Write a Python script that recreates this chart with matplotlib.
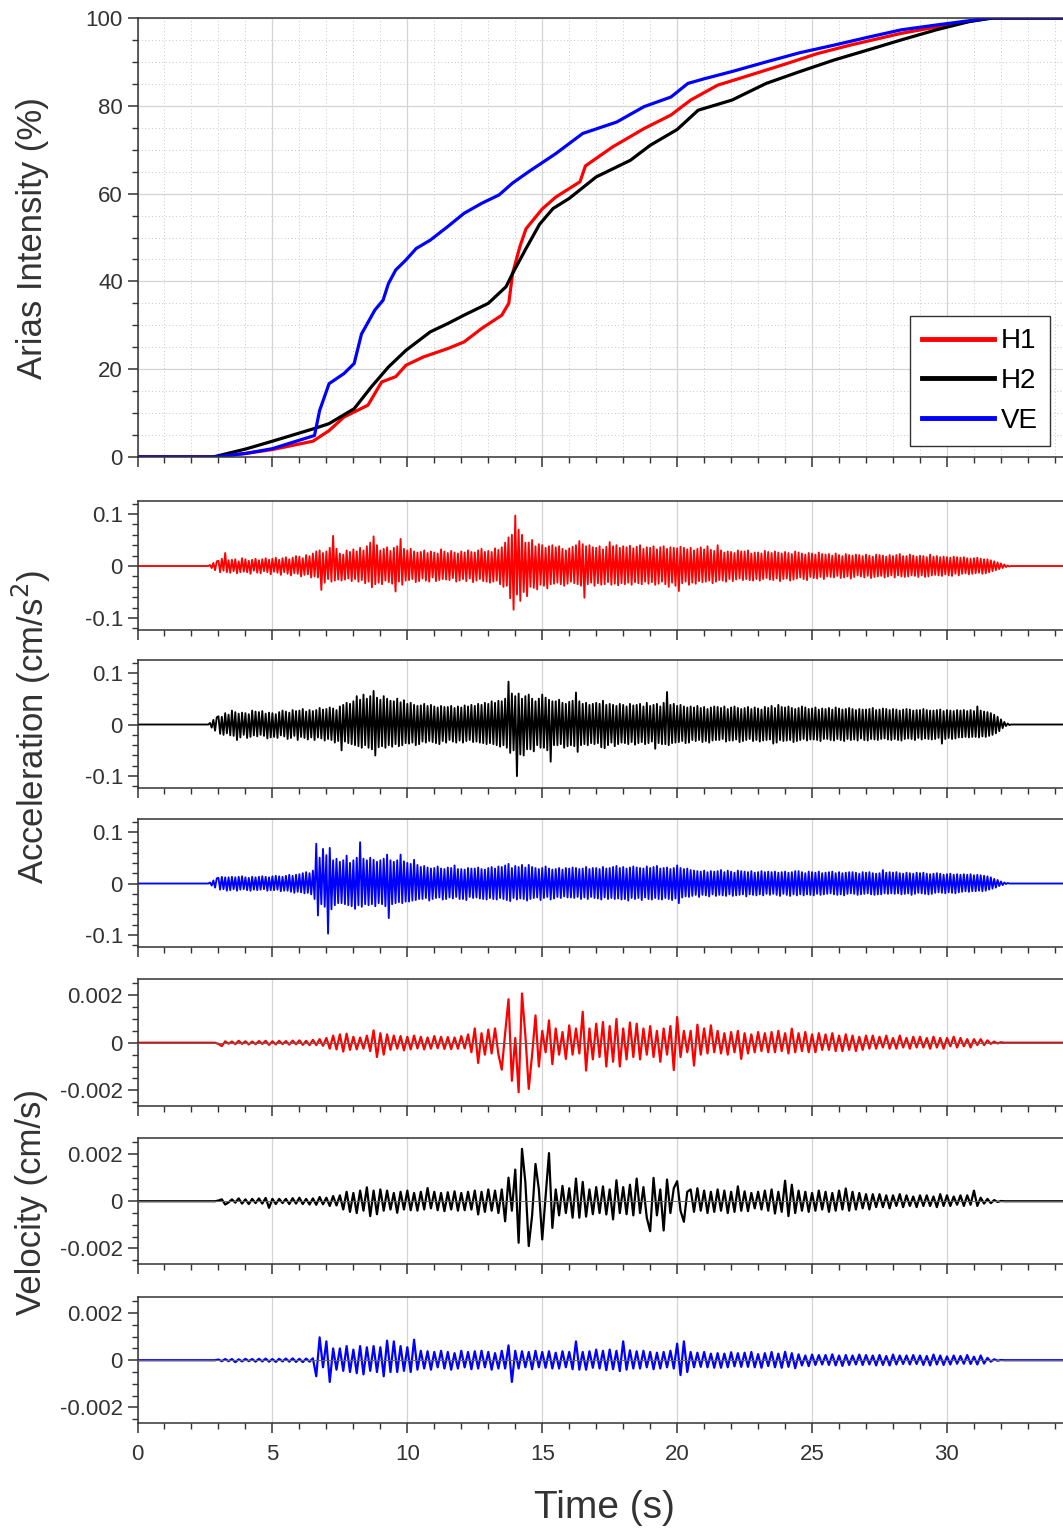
#!/usr/bin/env python
"""
plot.py - Arias intensity, acceleration and velocity histories (H1, H2, VE).
Writes out.png
"""
import numpy as np
import matplotlib
matplotlib.use("Agg")
import matplotlib.pyplot as plt
from matplotlib.ticker import MultipleLocator, FuncFormatter

INK, GRID = "#333333", "#d4d4d4"
COL = {"H1": "#ff0000", "H2": "#000000", "VE": "#0000ff"}

plt.rcParams.update({
    "font.family": ["Liberation Sans", "DejaVu Sans"],
    "axes.unicode_minus": False, "font.size": 16,
    "axes.edgecolor": INK, "axes.linewidth": 1.1,
    "xtick.color": INK, "ytick.color": INK,
    "xtick.labelcolor": INK, "ytick.labelcolor": INK,
})

REC_END = 34.3  # s, end of record / x-range

# ---- Arias intensity (%) -------------------------------------------------
AI_T_H1 = [0, 2.8, 4.0, 5.0, 6.5, 7.1, 7.65, 8.54, 9.05, 9.57, 9.95, 10.6, 11.5, 12.1,
           12.76, 13.5, 13.76, 13.9, 14.17, 14.4, 15.0, 15.5, 16.4, 16.6, 17.6, 18.77,
           19.77, 20.5, 21.5, 22.5, 23.9, 25.2, 26.4, 28.3, 30.2, 31.6, 34.3]
AI_H1 = [0, 0, 0.8, 1.7, 3.6, 6.0, 9.1, 11.8, 17.1, 18.3, 20.9, 22.8, 24.7, 26.2,
         29.3, 32.3, 35.0, 41.8, 47.9, 52.0, 56.5, 59.2, 62.7, 66.3, 70.6, 74.8,
         77.9, 81.3, 84.7, 86.6, 89.3, 91.9, 93.8, 96.5, 98.6, 100, 100]
AI_T_H2 = [0, 2.8, 4.0, 5.0, 6.56, 7.1, 8.03, 8.67, 9.3, 9.95, 10.85, 11.5, 12.1, 13.0,
           13.66, 13.9, 14.4, 14.9, 15.4, 16.0, 17.0, 18.27, 19.0, 20.0, 20.78, 22.03,
           23.3, 24.55, 25.8, 27.06, 28.3, 29.6, 30.84, 31.7, 34.3]
AI_H2 = [0, 0, 1.8, 3.6, 6.5, 7.6, 11.0, 16.0, 20.5, 24.3, 28.5, 30.4, 32.3, 35.0,
         38.8, 41.8, 47.5, 53.0, 56.6, 58.9, 63.8, 67.6, 71.0, 74.6, 79.0, 81.3,
         85.1, 87.8, 90.4, 92.7, 95.0, 97.3, 99.2, 100, 100]
AI_T_VE = [0, 2.8, 4.0, 5.0, 6.56, 6.75, 7.1, 7.65, 8.03, 8.3, 8.8, 9.1, 9.3, 9.57, 9.95,
           10.33, 10.85, 11.5, 12.1, 12.76, 13.4, 13.9, 14.5, 15.5, 16.5, 17.76, 18.77,
           19.77, 20.4, 21.03, 22.03, 23.3, 24.55, 25.8, 27.06, 28.3, 29.6, 30.84, 31.6, 34.3]
AI_VE = [0, 0, 0.8, 1.9, 4.9, 10.6, 16.7, 19.0, 21.3, 28.0, 33.5, 35.7, 39.5, 42.6, 44.9,
         47.5, 49.4, 52.5, 55.5, 57.8, 59.7, 62.4, 65.0, 69.1, 73.7, 76.3, 79.8,
         82.0, 85.1, 86.2, 87.8, 90.0, 92.1, 93.8, 95.6, 97.3, 98.4, 99.4, 100, 100]

# ---- waveforms: samples from T0; one row = 0.5 s (acc) or 1 s (vel) ------
T0 = 2.5
DT_ACC, DT_VEL = 1 / 16, 1 / 8

# acceleration, 1e-3 cm/s^2
ACC_H1 = [
    0, 0, 0, 2, -4, 6, -8, 9,  10, -12, 14, -9, 25, -12, 11, -13,
    12, -10, 13, -14, 9, -12, 15, -11,  13, -12, 10, -15, 12, -9, 14, -13,
    11, -14, 13, -10, 15, -12, 12, -16,  14, -11, 16, -13, 12, -17, 15, -12,
    17, -15, 13, -18, 16, -14, 19, -15,  18, -20, 15, -17, 21, -16, 19, -22,
    24, -20, 28, -22, 30, -46, 25, -32,  28, -25, 35, -30, 58, -28, 33, -26,
    24, -28, 22, -26, 30, -24, 27, -29,  32, -25, 28, -30, 35, -27, 30, -33,
    38, -30, 45, -41, 57, -35, 40, -32,  30, -35, 33, -28, 36, -31, 29, -34,
    35, -49, 38, -30, 52, -36, 33, -28,  30, -27, 33, -25, 28, -31, 26, -29,
    27, -24, 30, -28, 25, -30, 28, -22,  26, -29, 24, -27, 32, -25, 28, -26,
    25, -27, 29, -23, 26, -30, 24, -28,  28, -25, 26, -29, 30, -24, 27, -31,
    26, -28, 30, -25, 33, -29, 27, -30,  29, -32, 27, -30, 34, -28, 31, -35,
    36, -40, 45, -38, 55, -62, 60, -84,  97, -55, 70, -67, 60, -50, 45, -58,
    45, -40, 50, -42, 38, -45, 42, -36,  40, -38, 35, -43, 38, -35, 40, -34,
    36, -32, 38, -35, 33, -38, 30, -34,  34, -30, 37, -33, 40, -35, 48, -38,
    42, -61, 38, -35, 40, -32, 36, -38,  35, -33, 38, -36, 32, -35, 37, -31,
    46, -36, 38, -34, 40, -37, 35, -33,  38, -35, 36, -32, 39, -36, 34, -31,
    37, -33, 40, -35, 33, -30, 36, -34,  35, -31, 38, -36, 32, -34, 36, -30,
    38, -35, 33, -40, 36, -32, 35, -38,  34, -48, 37, -33, 35, -30, 32, -36,
    35, -32, 30, -34, 33, -29, 36, -31,  32, -30, 38, -28, 31, -33, 29, -30,
    40, -27, 30, -28, 26, -30, 28, -25,  27, -29, 25, -26, 30, -24, 28, -27,
    28, -25, 30, -27, 24, -28, 26, -25,  26, -28, 24, -25, 29, -23, 27, -26,
    25, -27, 28, -24, 26, -29, 24, -25,  27, -24, 25, -28, 23, -26, 28, -24,
    26, -22, 24, -25, 22, -27, 25, -21,  24, -23, 22, -24, 26, -21, 23, -25,
    22, -20, 23, -21, 20, -22, 24, -19,  21, -23, 19, -22, 23, -20, 21, -24,
    20, -21, 22, -18, 21, -20, 19, -22,  22, -19, 20, -23, 18, -21, 22, -20,
    21, -19, 20, -22, 18, -20, 21, -18,  19, -22, 21, -18, 23, -20, 19, -21,
    19, -20, 22, -18, 20, -19, 18, -21,  20, -18, 19, -21, 17, -20, 22, -18,
    18, -17, 19, -18, 17, -19, 18, -16,  17, -18, 16, -19, 18, -15, 17, -18,
    16, -15, 17, -14, 15, -16, 14, -15,  15, -14, 16, -13, 14, -15, 13, -14,
    13, -12, 11, -10, 9, -8, 7, -6,  5, -4, 3, -2, 1, -1, 0, 0,
]
ACC_H2 = [
    0, 0, 0, 3, -6, 9, -12, 14,  16, -18, 15, -20, 22, -17, 19, -21,
    27, -22, 24, -30, 21, -25, 23, -20,  22, -26, 20, -24, 27, -21, 25, -23,
    24, -20, 26, -22, 21, -27, 23, -25,  22, -24, 20, -26, 24, -21, 27, -23,
    25, -28, 23, -26, 28, -22, 26, -30,  27, -24, 30, -26, 25, -29, 28, -25,
    26, -30, 28, -25, 32, -27, 29, -31,  30, -28, 33, -30, 31, -35, 28, -32,
    35, -50, 38, -33, 42, -36, 40, -38,  45, -40, 55, -42, 48, -45, 58, -40,
    50, -45, 55, -48, 65, -60, 52, -44,  48, -42, 55, -45, 50, -40, 46, -43,
    45, -38, 50, -42, 43, -40, 47, -36,  40, -37, 42, -35, 38, -40, 36, -38,
    37, -33, 40, -35, 36, -32, 38, -34,  35, -36, 33, -38, 36, -32, 34, -35,
    34, -30, 36, -33, 32, -35, 35, -31,  33, -35, 37, -32, 35, -30, 38, -34,
    36, -33, 40, -35, 38, -36, 42, -38,  40, -36, 45, -38, 42, -40, 46, -43,
    45, -40, 50, -45, 83, -55, 60, -50,  55, -100, 60, -58, 50, -60, 55, -48,
    58, -48, 50, -52, 45, -40, 50, -45,  58, -45, 52, -50, 48, -72, 45, -40,
    45, -40, 48, -38, 42, -45, 40, -42,  44, -40, 46, -42, 62, -53, 45, -40,
    40, -38, 42, -40, 38, -36, 40, -38,  42, -36, 40, -44, 46, -46, 38, -40,
    40, -35, 38, -42, 36, -38, 40, -35,  38, -36, 35, -38, 40, -34, 37, -39,
    38, -36, 40, -34, 35, -38, 42, -36,  36, -33, 38, -47, 40, -36, 35, -38,
    42, -38, 63, -40, 38, -36, 40, -35,  36, -34, 38, -32, 35, -36, 33, -35,
    35, -30, 33, -32, 36, -30, 32, -34,  34, -32, 30, -35, 33, -31, 35, -30,
    34, -30, 32, -28, 35, -33, 30, -31,  33, -31, 35, -29, 32, -34, 30, -32,
    32, -30, 34, -28, 30, -32, 33, -30,  31, -33, 29, -31, 34, -30, 32, -29,
    36, -37, 32, -35, 38, -30, 34, -32,  33, -31, 35, -30, 32, -34, 30, -32,
    32, -30, 35, -28, 33, -31, 30, -29,  31, -29, 33, -30, 29, -32, 31, -28,
    30, -28, 32, -30, 29, -31, 33, -28,  31, -30, 29, -32, 30, -28, 32, -30,
    30, -29, 28, -31, 30, -27, 29, -30,  29, -31, 30, -28, 32, -29, 28, -30,
    29, -28, 31, -27, 30, -29, 28, -30,  30, -28, 29, -30, 27, -31, 29, -28,
    30, -27, 29, -28, 27, -30, 28, -26,  28, -29, 30, -27, 28, -28, 27, -29,
    27, -28, 28, -26, 29, -37, 26, -28,  28, -26, 27, -28, 26, -27, 28, -25,
    27, -25, 28, -24, 26, -25, 28, -24,  26, -24, 35, -25, 27, -23, 25, -24,
    24, -22, 22, -20, 19, -17, 15, -13,  10, -7, 5, -3, 2, -1, 0, 0,
]
ACC_VE = [
    0, 0, 0, 2, -4, 6, -8, 10,  11, -12, 13, -11, 12, -14, 12, -13,
    13, -11, 12, -14, 13, -12, 14, -11,  12, -13, 11, -14, 13, -12, 12, -13,
    13, -12, 14, -11, 13, -14, 12, -13,  14, -13, 15, -12, 14, -15, 13, -14,
    15, -14, 17, -16, 15, -18, 17, -16,  18, -17, 20, -19, 22, -18, 20, -21,
    25, -30, 77, -62, 50, -40, 67, -45,  55, -97, 69, -50, 45, -42, 48, -38,
    42, -38, 45, -40, 54, -42, 40, -44,  45, -49, 50, -42, 80, -45, 48, -40,
    45, -42, 50, -40, 46, -44, 42, -38,  45, -40, 48, -44, 56, -67, 45, -40,
    42, -38, 45, -36, 56, -38, 43, -35,  40, -35, 38, -33, 46, -32, 36, -30,
    32, -30, 34, -28, 31, -33, 29, -30,  30, -28, 33, -27, 29, -31, 28, -30,
    31, -27, 30, -29, 35, -26, 28, -30,  28, -30, 27, -32, 30, -26, 29, -28,
    29, -27, 31, -29, 28, -30, 27, -31,  30, -28, 32, -30, 29, -31, 33, -28,
    32, -30, 35, -32, 38, -34, 30, -28,  34, -31, 32, -29, 36, -30, 31, -33,
    36, -30, 32, -28, 30, -27, 28, -32,  30, -28, 33, -26, 29, -31, 27, -29,
    28, -26, 30, -28, 27, -25, 30, -27,  29, -27, 31, -28, 30, -26, 28, -30,
    29, -27, 32, -30, 28, -26, 30, -28,  30, -29, 28, -31, 32, -27, 29, -30,
    30, -28, 32, -30, 34, -29, 30, -31,  32, -30, 29, -33, 31, -28, 33, -30,
    31, -28, 30, -32, 29, -27, 33, -30,  30, -31, 32, -28, 34, -30, 29, -31,
    30, -28, 31, -30, 28, -32, 30, -29,  35, -38, 30, -27, 28, -25, 29, -26,
    26, -24, 25, -22, 24, -26, 23, -22,  25, -23, 22, -25, 24, -21, 23, -24,
    24, -22, 26, -23, 22, -24, 25, -21,  23, -24, 21, -23, 25, -22, 24, -21,
    23, -25, 22, -21, 24, -22, 21, -23,  22, -21, 24, -23, 22, -20, 23, -22,
    22, -20, 23, -22, 21, -24, 22, -20,  23, -22, 21, -24, 22, -21, 24, -23,
    24, -21, 22, -23, 20, -21, 23, -22,  22, -23, 21, -20, 23, -22, 20, -21,
    21, -20, 22, -19, 23, -21, 20, -22,  22, -21, 20, -23, 21, -20, 22, -19,
    22, -20, 21, -22, 19, -21, 22, -20,  21, -19, 22, -21, 20, -22, 19, -21,
    20, -21, 26, -19, 21, -20, 22, -19,  21, -20, 22, -19, 20, -21, 19, -20,
    21, -19, 20, -22, 19, -20, 21, -18,  20, -19, 21, -20, 19, -21, 18, -20,
    19, -18, 20, -17, 19, -18, 17, -19,  18, -17, 19, -18, 17, -19, 18, -17,
    17, -16, 18, -15, 17, -16, 18, -15,  16, -15, 17, -14, 16, -15, 15, -14,
    14, -12, 12, -10, 9, -8, 7, -5,  4, -3, 2, -1, 1, 0, 0, 0,
]

# velocity, 1e-4 cm/s
VEL_H1 = [
    0, 0, 0, 0, -0.5, -1.4, 0.6, -0.4,  0.5, -0.6, 0.8, -0.5, 0.6, -0.7, 0.5, -0.6,
    0.7, -0.5, 0.8, -0.9, 0.6, -0.7, 0.8, -0.6,  0.7, -0.8, 0.9, -0.7, 1.0, -0.9, 0.8, -1.0,
    1.2, -1.0, 1.5, -1.3, 2.0, -2.5, 3.0, -2.8,  3.5, -3.7, 3.8, -3.0, 2.5, -2.8, 2.2, -2.5,
    3.0, -3.5, 5.2, -6.0, 4.0, -5.0, 3.5, -3.0,  3.0, -2.5, 2.8, -3.2, 2.5, -2.8, 3.0, -2.4,
    2.5, -2.8, 2.2, -2.5, 2.8, -2.3, 2.5, -2.6,  2.4, -2.7, 2.2, -2.5, 2.8, -2.4, 3.5, -4.0,
    6.0, -8.5, 4.0, -5.0, 5.5, -4.5, 6.0, -4.8,  -11.3, 4.0, 18.3, -16.0, 2.0, -20.8, 20.7, 3.0,
    -19.4, -5.0, 11.5, -10.0, 5.0, -4.0, 9.4, -9.0,  6.0, -5.0, 4.5, -6.8, 7.3, -5.0, 6.0, -4.5,
    13.0, -11.7, 6.0, -7.0, 8.0, -6.0, 8.7, -10.0,  7.0, -8.0, 10.0, -10.0, 6.0, -7.0, 8.5, -6.0,
    8.0, -7.0, 6.0, -5.0, 7.0, -6.0, 5.0, -8.0,  6.0, -5.0, 7.0, -11.5, 10.8, -6.0, 5.0, -4.0,
    5.0, -9.6, 7.6, -5.0, 6.0, -4.5, 7.3, -4.0,  5.0, -4.5, 4.0, -5.0, 4.5, -4.0, 5.0, -6.8,
    4.0, -4.5, 3.5, -4.0, 4.5, -3.5, 4.0, -4.0,  4.5, -4.0, 5.0, -3.5, 4.0, -4.5, 5.9, -4.0,
    4.0, -3.5, 4.5, -4.0, 3.5, -4.0, 4.0, -3.0,  3.5, -3.0, 4.0, -3.5, 3.0, -3.5, 3.5, -3.0,
    3.0, -3.5, 2.5, -3.0, 3.0, -2.5, 3.0, -2.5,  2.5, -2.0, 3.0, -2.5, 2.0, -2.5, 3.0, -2.0,
    2.0, -2.5, 2.5, -2.0, 2.5, -2.0, 2.0, -2.5,  2.5, -2.0, 2.0, -2.5, 2.0, -1.5, 2.5, -2.0,
    2.0, -1.5, 1.5, -2.0, 1.5, -1.0, 1.5, -1.0,  1.0, -0.5, 0.5, -0.3, 0.2, 0, 0, 0,
]
VEL_H2 = [
    0, 0, 0, 0, 0.3, 0.8, -1.4, -0.5,  0.8, -0.6, 1.2, -1.0, 0.8, -1.2, 1.0, -0.8,
    1.2, -1.0, 1.4, -2.8, 1.0, -1.2, 1.0, -0.8,  1.0, -1.2, 1.3, -1.0, 1.5, -1.2, 1.0, -1.4,
    1.2, -1.5, 1.8, -1.3, 1.5, -2.0, 2.2, -1.8,  2.5, -3.5, 4.0, -4.5, 3.5, -5.0, 4.5, -4.0,
    5.9, -6.3, 4.5, -5.5, 5.0, -4.0, 4.5, -3.5,  3.5, -4.9, 4.0, -3.5, 4.5, -3.8, 3.5, -4.0,
    4.0, -3.5, 5.6, -3.0, 4.0, -3.8, 3.5, -4.2,  3.8, -3.5, 4.2, -4.0, 3.5, -3.8, 4.0, -3.5,
    4.5, -5.6, 4.0, -4.5, 5.0, -4.0, 4.5, -5.0,  5.0, -8.5, 10.0, -4.0, 13.4, -17.6, 22.2, 8.0,
    -19.0, -6.0, 15.8, 5.0, -16.2, 2.0, 20.4, -11.3,  5.0, -6.0, 6.5, -5.0, 5.5, -7.0, 9.6, -7.0,
    8.2, -6.5, 5.0, -5.5, 6.0, -5.0, 6.3, -5.6,  5.0, -7.7, 8.9, -5.0, 6.0, -5.5, 7.0, -6.0,
    9.6, -5.0, 6.0, -7.0, -12.7, 9.9, -6.0, 5.0,  -12.4, 9.2, -5.0, 5.5, 8.5, -4.0, -8.7, 4.0,
    5.0, -4.5, 5.5, -4.0, 4.5, -5.0, 4.0, -4.5,  5.0, -4.0, 4.5, -5.0, 4.0, -4.5, 6.3, -4.0,
    4.2, -4.2, 3.5, -3.0, 4.0, -3.5, 4.5, -4.0,  5.0, -5.2, 4.0, -4.5, 8.7, -6.3, 7.0, -5.0,
    4.5, -4.0, 4.0, -4.5, 3.5, -4.0, 4.5, -3.5,  4.0, -4.5, 3.5, -4.0, 4.5, -3.5, 5.4, -4.0,
    4.0, -3.5, 3.5, -3.0, 3.0, -3.5, 3.0, -2.5,  3.0, -2.5, 2.5, -3.0, 2.5, -2.0, 3.0, -2.5,
    2.5, -2.0, 2.0, -2.5, 2.5, -2.0, 2.5, -2.0,  2.0, -2.5, 3.0, -2.0, 2.5, -2.0, 2.0, -1.5,
    2.5, -2.0, 2.5, -1.5, 4.5, -2.0, 1.5, -1.0,  1.0, -0.8, 0.5, -0.3, 0.1, 0, 0, 0,
]
VEL_VE = [
    0, 0, 0, 0, 0.3, -0.4, 0.5, -0.4,  0.5, -0.8, 0.4, -0.5, 0.6, -0.4, 0.5, -0.6,
    0.6, -0.5, 0.7, -0.6, 0.5, -0.7, 0.6, -0.5,  0.7, -0.6, 0.8, -0.7, 0.6, -0.8, 0.7, -0.6,
    0.8, -6.8, 9.7, -3.0, 8.0, -9.2, 5.0, -4.0,  5.0, -4.5, 6.0, -5.0, 4.5, -5.5, 6.0, -6.0,
    5.5, -4.5, 6.0, -5.0, 5.5, -6.8, 8.3, -5.0,  8.0, -5.0, 6.0, -4.5, 5.5, -5.0, 8.7, -4.0,
    4.0, -3.5, 3.8, -4.0, 3.5, -3.0, 4.0, -3.5,  3.5, -4.0, 3.0, -3.5, 4.0, -3.0, 3.5, -3.8,
    3.8, -3.5, 4.0, -3.0, 3.5, -4.0, 3.0, -3.5,  4.0, -3.5, 6.3, -9.2, 4.0, -3.5, 3.8, -3.0,
    3.5, -3.8, 4.0, -3.0, 3.5, -3.2, 3.8, -3.5,  3.2, -3.5, 3.8, -3.0, 3.5, -3.8, 8.0, -4.0,
    3.5, -4.0, 3.8, -3.2, 4.5, -3.5, 4.0, -4.2,  4.5, -3.8, 4.0, -4.6, 8.0, -4.0, 4.2, -3.5,
    3.8, -3.5, 4.0, -3.0, 3.5, -3.8, 3.2, -3.5,  3.5, -3.0, 4.0, -3.5, 7.0, -6.3, 8.0, -5.0,
    3.5, -3.0, 3.2, -2.8, 3.5, -3.0, 2.8, -3.2,  3.0, -3.2, 2.8, -3.0, 3.4, -2.6, 3.0, -2.8,
    3.2, -2.8, 3.5, -3.0, 2.6, -3.2, 3.0, -2.5,  3.5, -3.0, 2.8, -3.2, 3.6, -2.8, 3.0, -3.4,
    2.5, -2.2, 2.0, -2.5, 2.4, -2.0, 2.2, -1.8,  2.2, -2.0, 2.5, -2.2, 2.0, -2.4, 2.2, -2.0,
    2.0, -1.8, 2.4, -2.0, 2.2, -1.8, 2.0, -2.2,  2.2, -2.0, 1.8, -2.2, 2.4, -1.8, 2.0, -1.6,
    2.0, -1.8, 2.2, -1.6, 2.0, -2.0, 1.8, -2.2,  2.4, -1.8, 2.0, -2.0, 1.6, -1.8, 2.0, -1.5,
    1.8, -1.5, 2.2, -1.6, 1.5, -1.8, 2.0, -1.4,  1.0, -0.6, 0.4, -0.2, 0.1, 0, 0, 0,
]

W, H = 1063, 1530
LEFT = 137.5 / W


def axes_px(fig, top, bottom):
    return fig.add_axes([LEFT, 1 - bottom / H, 1 - LEFT, (bottom - top) / H])


def style(ax, last=False):
    ax.set_xlim(0, REC_END)
    ax.xaxis.set_major_locator(MultipleLocator(5))
    ax.xaxis.set_minor_locator(MultipleLocator(1))
    ax.tick_params(which="major", direction="out", length=7, width=1.1, labelsize=16)
    ax.tick_params(which="minor", direction="out", length=4, width=1.0)
    ax.tick_params(axis="x", labelbottom=last, pad=8)
    ax.spines["right"].set_visible(False)
    ax.yaxis.set_major_formatter(FuncFormatter(lambda v, p: f"{v:g}"))


def wave(v, dt, scale):
    t = T0 + dt * np.arange(len(v))
    t = np.concatenate([[0.0], t, [REC_END]])
    y = np.concatenate([[0.0], np.asarray(v, float) * scale, [0.0]])
    return t, y


fig = plt.figure(figsize=(W / 100, H / 100), dpi=100)

# ---- Arias intensity -------------------------------------------------------
ax = axes_px(fig, 18, 457)
style(ax)
ax.set_ylim(0, 100)
ax.yaxis.set_major_locator(MultipleLocator(20))
ax.yaxis.set_minor_locator(MultipleLocator(5))
ax.grid(which="major", color=GRID, lw=0.9)
ax.grid(which="minor", color="#c8c8c8", lw=0.7, ls=(0, (1, 2.5)))
ax.set_axisbelow(True)
for name, t, v in [("H1", AI_T_H1, AI_H1), ("H2", AI_T_H2, AI_H2), ("VE", AI_T_VE, AI_VE)]:
    ax.plot(t, v, color=COL[name], lw=2.3, label=name, solid_joinstyle="round")
leg = ax.legend(loc="lower right", bbox_to_anchor=(0.986, 0.025), borderaxespad=0,
                fontsize=20, handlelength=2.6, handletextpad=0.25, labelspacing=0.5,
                borderpad=0.43, fancybox=False, framealpha=1)
leg.get_frame().set_edgecolor(INK)
leg.get_frame().set_linewidth(1.0)
for ln in leg.get_lines():
    ln.set_linewidth(3.5)

# ---- acceleration ----------------------------------------------------------
for (top, bot), name, vals in zip([(501, 630), (660, 788), (819, 947)],
                                  ["H1", "H2", "VE"], [ACC_H1, ACC_H2, ACC_VE]):
    ax = axes_px(fig, top, bot)
    style(ax)
    ax.set_ylim(-0.123, 0.125)
    ax.yaxis.set_major_locator(MultipleLocator(0.1))
    ax.yaxis.set_minor_locator(MultipleLocator(0.02))
    ax.grid(which="major", axis="x", color=GRID, lw=0.9)
    ax.set_axisbelow(True)
    ax.plot(*wave(vals, DT_ACC, 1e-3), color=COL[name], lw=1.35)

# ---- velocity --------------------------------------------------------------
vel_panels = [(979, 1106), (1138, 1264), (1297, 1423)]
for i, ((top, bot), name, vals) in enumerate(zip(vel_panels, ["H1", "H2", "VE"],
                                                 [VEL_H1, VEL_H2, VEL_VE])):
    ax = axes_px(fig, top, bot)
    style(ax, last=(i == 2))
    ax.set_ylim(-0.00266, 0.00268)
    ax.yaxis.set_major_locator(MultipleLocator(0.002))
    ax.yaxis.set_minor_locator(MultipleLocator(0.0005))
    ax.grid(which="major", axis="x", color=GRID, lw=0.9)
    ax.set_axisbelow(True)
    ax.plot(*wave(vals, DT_VEL, 1e-4), color=COL[name], lw=1.6)
    ax.axhline(0, color="#666666", lw=0.7, zorder=3)

# ---- axis titles -----------------------------------------------------------
lab = dict(rotation=90, ha="center", va="center", fontsize=25, color=INK)
fig.text(33 / W, 1 - 238 / H, "Arias Intensity (%)", **lab)
fig.text(31 / W, 1 - 727 / H, "Acceleration (cm/s$^2$)", **lab)
fig.text(32 / W, 1 - 1202 / H, "Velocity (cm/s)", **lab)
fig.text(604 / W, 1 - 1508 / H, "Time (s)", ha="center", va="center",
         fontsize=28, color=INK)

fig.savefig("out.png", dpi=100)
